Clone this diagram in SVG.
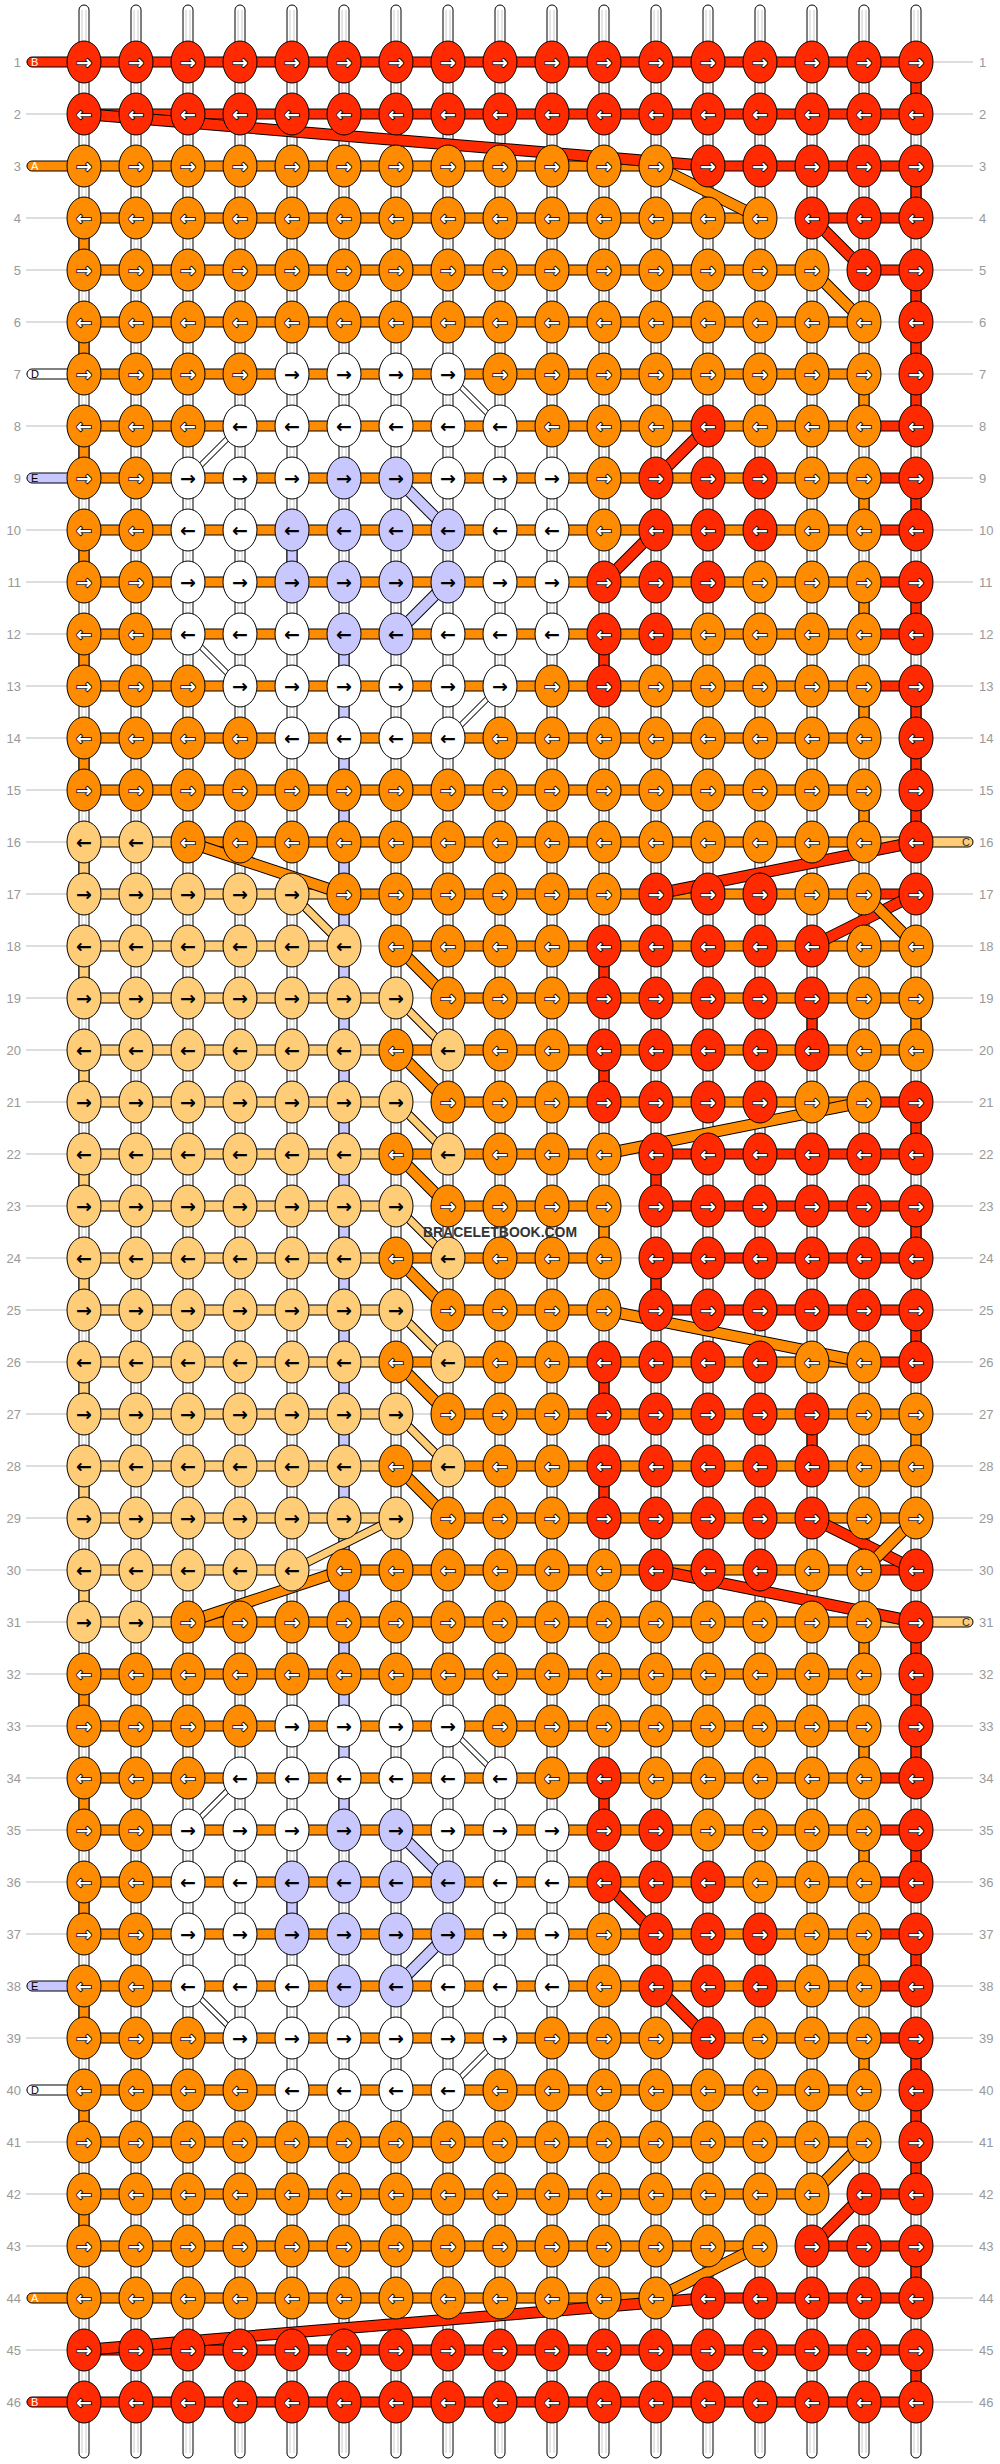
<svg xmlns="http://www.w3.org/2000/svg" width="1000" height="2464" viewBox="0 0 1000 2464">
<style>
text{font-family:"Liberation Sans",Arial,sans-serif}
.r{fill:#ff2a00}.o{fill:#ff8c00}.l{fill:#ffcc77}.w{fill:#fff}.v{fill:#c8c8ff}
.c{stroke:#000;stroke-width:1px}
ellipse{rx:17px;ry:21px;stroke:#000;stroke-width:1px}
.gl{stroke:#bbb;stroke-width:1px;fill:none}
.st{fill:#fff;stroke:#000;stroke-width:1px}
.sl{stroke:#ccc;stroke-width:1px;fill:none}
.aw{font-family:"DejaVu Sans",sans-serif;font-size:19px;font-weight:bold;text-anchor:middle;fill:#fff;stroke:#000;stroke-width:1.6px;paint-order:stroke}
.ak{fill:#000;stroke:none}
.nl,.nr{font-size:13px;fill:#999}
.nl{text-anchor:end}
.tl{font-size:11px}
.dk{fill:none;stroke:#000;stroke-width:12px}
.dr{fill:none;stroke:#ff2a00;stroke-width:10px}
.do{fill:none;stroke:#ff8c00;stroke-width:10px}
.dk2{fill:none;stroke:#000;stroke-width:9px}
.dl{fill:none;stroke:#ffcc77;stroke-width:7px}
.dk3{fill:none;stroke:#000;stroke-width:6px}
.dw{fill:none;stroke:#fff;stroke-width:4px}
.dv{fill:none;stroke:#c8c8ff;stroke-width:10px}
</style>
<rect width="1000" height="2464" fill="#fff"/>
<g id="connectors">
<path class="gl" d="M26 62H973M26 114H973M26 166H973M26 218H973M26 270H973M26 322H973M26 374H973M26 426H973M26 478H973M26 530H973M26 582H973M26 634H973M26 686H973M26 738H973M26 790H973M26 842H973M26 894H973M26 946H973M26 998H973M26 1050H973M26 1102H973M26 1154H973M26 1206H973M26 1258H973M26 1310H973M26 1362H973M26 1414H973M26 1466H973M26 1518H973M26 1570H973M26 1622H973M26 1674H973M26 1726H973M26 1778H973M26 1830H973M26 1882H973M26 1934H973M26 1986H973M26 2038H973M26 2090H973M26 2142H973M26 2194H973M26 2246H973M26 2298H973M26 2350H973M26 2402H973"/>
<g id="strings">
<rect class="st" x="79" y="5" width="10" height="2453" rx="5"/>
<rect class="st" x="131" y="5" width="10" height="2453" rx="5"/>
<rect class="st" x="183" y="5" width="10" height="2453" rx="5"/>
<rect class="st" x="235" y="5" width="10" height="2453" rx="5"/>
<rect class="st" x="287" y="5" width="10" height="2453" rx="5"/>
<rect class="st" x="339" y="5" width="10" height="2453" rx="5"/>
<rect class="st" x="391" y="5" width="10" height="2453" rx="5"/>
<rect class="st" x="443" y="5" width="10" height="2453" rx="5"/>
<rect class="st" x="495" y="5" width="10" height="2453" rx="5"/>
<rect class="st" x="547" y="5" width="10" height="2453" rx="5"/>
<rect class="st" x="599" y="5" width="10" height="2453" rx="5"/>
<rect class="st" x="651" y="5" width="10" height="2453" rx="5"/>
<rect class="st" x="703" y="5" width="10" height="2453" rx="5"/>
<rect class="st" x="755" y="5" width="10" height="2453" rx="5"/>
<rect class="st" x="807" y="5" width="10" height="2453" rx="5"/>
<rect class="st" x="859" y="5" width="10" height="2453" rx="5"/>
<rect class="st" x="911" y="5" width="10" height="2453" rx="5"/>
<path class="sl" d="M82 10V2453M86 10V2453M134 10V2453M138 10V2453M186 10V2453M190 10V2453M238 10V2453M242 10V2453M290 10V2453M294 10V2453M342 10V2453M346 10V2453M394 10V2453M398 10V2453M446 10V2453M450 10V2453M498 10V2453M502 10V2453M550 10V2453M554 10V2453M602 10V2453M606 10V2453M654 10V2453M658 10V2453M706 10V2453M710 10V2453M758 10V2453M762 10V2453M810 10V2453M814 10V2453M862 10V2453M866 10V2453M914 10V2453M918 10V2453"/>
</g>
<g id="vertical-threads">
<path class="r c" d="M911 62h10v52h-10zM911 166h10v52h-10zM911 270h10v156h-10zM911 478h10v52h-10zM911 582h10v52h-10zM911 686h10v156h-10zM911 1102h10v52h-10zM911 1206h10v52h-10zM911 1310h10v52h-10zM911 1622h10v156h-10zM911 1830h10v52h-10zM911 1934h10v52h-10zM911 2038h10v156h-10zM911 2246h10v52h-10zM911 2350h10v52h-10zM599 634h10v52h-10zM599 946h10v52h-10zM599 1050h10v52h-10zM599 1362h10v52h-10zM599 1466h10v52h-10zM599 1778h10v52h-10zM651 1154h10v52h-10zM651 1258h10v52h-10zM807 998h10v52h-10zM807 1414h10v52h-10z"/>
<path class="o c" d="M79 218h10v52h-10zM79 322h10v52h-10zM79 426h10v52h-10zM79 530h10v52h-10zM79 634h10v52h-10zM79 738h10v52h-10zM79 1674h10v52h-10zM79 1778h10v52h-10zM79 1882h10v52h-10zM79 1986h10v52h-10zM79 2090h10v52h-10zM79 2194h10v52h-10zM859 374h10v52h-10zM859 478h10v52h-10zM859 582h10v52h-10zM859 686h10v52h-10zM859 790h10v52h-10zM859 1622h10v52h-10zM859 1726h10v52h-10zM859 1830h10v52h-10zM859 1934h10v52h-10zM859 2038h10v52h-10zM911 998h10v52h-10zM911 1414h10v52h-10zM599 1206h10v52h-10z"/>
<path class="l c" d="M79 842h10v52h-10zM79 946h10v52h-10zM79 1050h10v52h-10zM79 1154h10v52h-10zM79 1258h10v52h-10zM79 1362h10v52h-10zM79 1466h10v52h-10zM79 1570h10v52h-10z"/>
<path class="v c" d="M287 530h10v52h-10zM287 1882h10v52h-10zM339 634h10v1196h-10z"/>
</g>
<g id="row-threads">
<path class="r c" d="M84 57H916v10H84zM84 109H916v10H84zM708 161H916v10H708zM812 213H916v10H812zM864 265H916v10H864zM864 421H916v10H864zM864 473H916v10H864zM864 525H916v10H864zM864 577H916v10H864zM864 629H916v10H864zM864 681H916v10H864zM864 889H916v10H864zM864 1097H916v10H864zM656 1149H916v10H656zM656 1201H916v10H656zM656 1253H916v10H656zM656 1305H916v10H656zM864 1357H916v10H864zM864 1565H916v10H864zM864 1773H916v10H864zM864 1825H916v10H864zM864 1877H916v10H864zM864 1929H916v10H864zM864 1981H916v10H864zM864 2033H916v10H864zM864 2189H916v10H864zM812 2241H916v10H812zM708 2293H916v10H708zM84 2345H916v10H84zM84 2397H916v10H84z"/>
<path class="o c" d="M84 161H656v10H84zM84 213H760v10H84zM84 265H812v10H84zM84 317H864v10H84zM84 369H864v10H84zM84 421H864v10H84zM84 473H864v10H84zM84 525H864v10H84zM84 577H864v10H84zM84 629H864v10H84zM84 681H864v10H84zM84 733H864v10H84zM84 785H864v10H84zM188 837H864v10H188zM344 889H864v10H344zM396 941H916v10H396zM448 993H916v10H448zM396 1045H916v10H396zM448 1097H864v10H448zM396 1149H604v10H396zM448 1201H604v10H448zM396 1253H604v10H396zM448 1305H604v10H448zM396 1357H864v10H396zM448 1409H916v10H448zM396 1461H916v10H396zM448 1513H916v10H448zM344 1565H864v10H344zM188 1617H864v10H188zM84 1669H864v10H84zM84 1721H864v10H84zM84 1773H864v10H84zM84 1825H864v10H84zM84 1877H864v10H84zM84 1929H864v10H84zM84 1981H864v10H84zM84 2033H864v10H84zM84 2085H864v10H84zM84 2137H864v10H84zM84 2189H812v10H84zM84 2241H760v10H84zM84 2293H656v10H84z"/>
<path class="l c" d="M84 837H188v10H84zM864 837H916v10H864zM84 889H344v10H84zM84 941H344v10H84zM84 993H396v10H84zM84 1045H396v10H84zM84 1097H396v10H84zM84 1149H396v10H84zM84 1201H396v10H84zM84 1253H396v10H84zM84 1305H396v10H84zM84 1357H396v10H84zM84 1409H396v10H84zM84 1461H396v10H84zM84 1513H396v10H84zM84 1565H292v10H84zM84 1617H188v10H84zM864 1617H916v10H864z"/>
</g>
<g id="diagonals">
<path class="dk" d="M84 114L708 166M812 218L864 270M708 426L656 478M656 530L604 582M916 842L656 894M916 894L812 946M812 1518L916 1570M656 1570L916 1622M604 1882L656 1934M656 1986L708 2038M864 2194L812 2246M708 2298L84 2350"/>
<path class="dr" d="M84 114L708 166M812 218L864 270M708 426L656 478M656 530L604 582M916 842L656 894M916 894L812 946M812 1518L916 1570M656 1570L916 1622M604 1882L656 1934M656 1986L708 2038M864 2194L812 2246M708 2298L84 2350"/>
<path class="dk" d="M656 166L760 218M812 270L864 322M188 842L344 894M864 894L916 946M396 946L448 998M396 1050L448 1102M864 1102L604 1154M396 1154L448 1206M396 1258L448 1310M604 1310L864 1362M396 1362L448 1414M396 1466L448 1518M916 1518L864 1570M344 1570L188 1622M864 2142L812 2194M760 2246L656 2298"/>
<path class="do" d="M656 166L760 218M812 270L864 322M188 842L344 894M864 894L916 946M396 946L448 998M396 1050L448 1102M864 1102L604 1154M396 1154L448 1206M396 1258L448 1310M604 1310L864 1362M396 1362L448 1414M396 1466L448 1518M916 1518L864 1570M344 1570L188 1622M864 2142L812 2194M760 2246L656 2298"/>
<path class="dk2" d="M292 894L344 946M396 998L448 1050M396 1102L448 1154M396 1206L448 1258M396 1310L448 1362M396 1414L448 1466M396 1518L292 1570"/>
<path class="dl" d="M292 894L344 946M396 998L448 1050M396 1102L448 1154M396 1206L448 1258M396 1310L448 1362M396 1414L448 1466M396 1518L292 1570"/>
<path class="dk3" d="M448 374L500 426M240 426L188 478M188 634L240 686M500 686L448 738M448 1726L500 1778M240 1778L188 1830M188 1986L240 2038M500 2038L448 2090"/>
<path class="dw" d="M448 374L500 426M240 426L188 478M188 634L240 686M500 686L448 738M448 1726L500 1778M240 1778L188 1830M188 1986L240 2038M500 2038L448 2090"/>
<path class="dk" d="M396 478L448 530M448 582L396 634M396 1830L448 1882M448 1934L396 1986"/>
<path class="dv" d="M396 478L448 530M448 582L396 634M396 1830L448 1882M448 1934L396 1986"/>
</g>
</g>
<g id="row-1" transform="translate(0,62)"><text class="nl" x="21" y="4.5">1</text><text class="nr" x="979" y="4.5">1</text><rect class="r c" x="27" y="-5" width="62" height="10" rx="5"/><text class="tl" x="31" y="4" fill="#fff">B</text><ellipse class="r" cx="84"/><ellipse class="r" cx="136"/><ellipse class="r" cx="188"/><ellipse class="r" cx="240"/><ellipse class="r" cx="292"/><ellipse class="r" cx="344"/><ellipse class="r" cx="396"/><ellipse class="r" cx="448"/><ellipse class="r" cx="500"/><ellipse class="r" cx="552"/><ellipse class="r" cx="604"/><ellipse class="r" cx="656"/><ellipse class="r" cx="708"/><ellipse class="r" cx="760"/><ellipse class="r" cx="812"/><ellipse class="r" cx="864"/><ellipse class="r" cx="916"/><text class="aw" x="84 136 188 240 292 344 396 448 500 552 604 656 708 760 812 864 916" y="7">→→→→→→→→→→→→→→→→→</text></g>
<g id="row-2" transform="translate(0,114)"><text class="nl" x="21" y="4.5">2</text><text class="nr" x="979" y="4.5">2</text><ellipse class="r" cx="84"/><ellipse class="r" cx="136"/><ellipse class="r" cx="188"/><ellipse class="r" cx="240"/><ellipse class="r" cx="292"/><ellipse class="r" cx="344"/><ellipse class="r" cx="396"/><ellipse class="r" cx="448"/><ellipse class="r" cx="500"/><ellipse class="r" cx="552"/><ellipse class="r" cx="604"/><ellipse class="r" cx="656"/><ellipse class="r" cx="708"/><ellipse class="r" cx="760"/><ellipse class="r" cx="812"/><ellipse class="r" cx="864"/><ellipse class="r" cx="916"/><text class="aw" x="84 136 188 240 292 344 396 448 500 552 604 656 708 760 812 864 916" y="7">←←←←←←←←←←←←←←←←←</text></g>
<g id="row-3" transform="translate(0,166)"><text class="nl" x="21" y="4.5">3</text><text class="nr" x="979" y="4.5">3</text><rect class="o c" x="27" y="-5" width="62" height="10" rx="5"/><text class="tl" x="31" y="4" fill="#fff">A</text><ellipse class="o" cx="84"/><ellipse class="o" cx="136"/><ellipse class="o" cx="188"/><ellipse class="o" cx="240"/><ellipse class="o" cx="292"/><ellipse class="o" cx="344"/><ellipse class="o" cx="396"/><ellipse class="o" cx="448"/><ellipse class="o" cx="500"/><ellipse class="o" cx="552"/><ellipse class="o" cx="604"/><ellipse class="o" cx="656"/><ellipse class="r" cx="708"/><ellipse class="r" cx="760"/><ellipse class="r" cx="812"/><ellipse class="r" cx="864"/><ellipse class="r" cx="916"/><text class="aw" x="84 136 188 240 292 344 396 448 500 552 604 656 708 760 812 864 916" y="7">→→→→→→→→→→→→→→→→→</text></g>
<g id="row-4" transform="translate(0,218)"><text class="nl" x="21" y="4.5">4</text><text class="nr" x="979" y="4.5">4</text><ellipse class="o" cx="84"/><ellipse class="o" cx="136"/><ellipse class="o" cx="188"/><ellipse class="o" cx="240"/><ellipse class="o" cx="292"/><ellipse class="o" cx="344"/><ellipse class="o" cx="396"/><ellipse class="o" cx="448"/><ellipse class="o" cx="500"/><ellipse class="o" cx="552"/><ellipse class="o" cx="604"/><ellipse class="o" cx="656"/><ellipse class="o" cx="708"/><ellipse class="o" cx="760"/><ellipse class="r" cx="812"/><ellipse class="r" cx="864"/><ellipse class="r" cx="916"/><text class="aw" x="84 136 188 240 292 344 396 448 500 552 604 656 708 760 812 864 916" y="7">←←←←←←←←←←←←←←←←←</text></g>
<g id="row-5" transform="translate(0,270)"><text class="nl" x="21" y="4.5">5</text><text class="nr" x="979" y="4.5">5</text><ellipse class="o" cx="84"/><ellipse class="o" cx="136"/><ellipse class="o" cx="188"/><ellipse class="o" cx="240"/><ellipse class="o" cx="292"/><ellipse class="o" cx="344"/><ellipse class="o" cx="396"/><ellipse class="o" cx="448"/><ellipse class="o" cx="500"/><ellipse class="o" cx="552"/><ellipse class="o" cx="604"/><ellipse class="o" cx="656"/><ellipse class="o" cx="708"/><ellipse class="o" cx="760"/><ellipse class="o" cx="812"/><ellipse class="r" cx="864"/><ellipse class="r" cx="916"/><text class="aw" x="84 136 188 240 292 344 396 448 500 552 604 656 708 760 812 864 916" y="7">→→→→→→→→→→→→→→→→→</text></g>
<g id="row-6" transform="translate(0,322)"><text class="nl" x="21" y="4.5">6</text><text class="nr" x="979" y="4.5">6</text><ellipse class="o" cx="84"/><ellipse class="o" cx="136"/><ellipse class="o" cx="188"/><ellipse class="o" cx="240"/><ellipse class="o" cx="292"/><ellipse class="o" cx="344"/><ellipse class="o" cx="396"/><ellipse class="o" cx="448"/><ellipse class="o" cx="500"/><ellipse class="o" cx="552"/><ellipse class="o" cx="604"/><ellipse class="o" cx="656"/><ellipse class="o" cx="708"/><ellipse class="o" cx="760"/><ellipse class="o" cx="812"/><ellipse class="o" cx="864"/><ellipse class="r" cx="916"/><text class="aw" x="84 136 188 240 292 344 396 448 500 552 604 656 708 760 812 864 916" y="7">←←←←←←←←←←←←←←←←←</text></g>
<g id="row-7" transform="translate(0,374)"><text class="nl" x="21" y="4.5">7</text><text class="nr" x="979" y="4.5">7</text><rect class="w c" x="27" y="-5" width="62" height="10" rx="5"/><text class="tl" x="31" y="4" fill="#000">D</text><ellipse class="o" cx="84"/><ellipse class="o" cx="136"/><ellipse class="o" cx="188"/><ellipse class="o" cx="240"/><ellipse class="w" cx="292"/><ellipse class="w" cx="344"/><ellipse class="w" cx="396"/><ellipse class="w" cx="448"/><ellipse class="o" cx="500"/><ellipse class="o" cx="552"/><ellipse class="o" cx="604"/><ellipse class="o" cx="656"/><ellipse class="o" cx="708"/><ellipse class="o" cx="760"/><ellipse class="o" cx="812"/><ellipse class="o" cx="864"/><ellipse class="r" cx="916"/><text class="aw" x="84 136 188 240 292 344 396 448 500 552 604 656 708 760 812 864 916" y="7">→→→→<tspan class="ak">→→→→</tspan>→→→→→→→→→</text></g>
<g id="row-8" transform="translate(0,426)"><text class="nl" x="21" y="4.5">8</text><text class="nr" x="979" y="4.5">8</text><ellipse class="o" cx="84"/><ellipse class="o" cx="136"/><ellipse class="o" cx="188"/><ellipse class="w" cx="240"/><ellipse class="w" cx="292"/><ellipse class="w" cx="344"/><ellipse class="w" cx="396"/><ellipse class="w" cx="448"/><ellipse class="w" cx="500"/><ellipse class="o" cx="552"/><ellipse class="o" cx="604"/><ellipse class="o" cx="656"/><ellipse class="r" cx="708"/><ellipse class="o" cx="760"/><ellipse class="o" cx="812"/><ellipse class="o" cx="864"/><ellipse class="r" cx="916"/><text class="aw" x="84 136 188 240 292 344 396 448 500 552 604 656 708 760 812 864 916" y="7">←←←<tspan class="ak">←←←←←←</tspan>←←←←←←←←</text></g>
<g id="row-9" transform="translate(0,478)"><text class="nl" x="21" y="4.5">9</text><text class="nr" x="979" y="4.5">9</text><rect class="v c" x="27" y="-5" width="62" height="10" rx="5"/><text class="tl" x="31" y="4" fill="#000">E</text><ellipse class="o" cx="84"/><ellipse class="o" cx="136"/><ellipse class="w" cx="188"/><ellipse class="w" cx="240"/><ellipse class="w" cx="292"/><ellipse class="v" cx="344"/><ellipse class="v" cx="396"/><ellipse class="w" cx="448"/><ellipse class="w" cx="500"/><ellipse class="w" cx="552"/><ellipse class="o" cx="604"/><ellipse class="r" cx="656"/><ellipse class="r" cx="708"/><ellipse class="r" cx="760"/><ellipse class="o" cx="812"/><ellipse class="o" cx="864"/><ellipse class="r" cx="916"/><text class="aw" x="84 136 188 240 292 344 396 448 500 552 604 656 708 760 812 864 916" y="7">→→<tspan class="ak">→→→→→→→→</tspan>→→→→→→→</text></g>
<g id="row-10" transform="translate(0,530)"><text class="nl" x="21" y="4.5">10</text><text class="nr" x="979" y="4.5">10</text><ellipse class="o" cx="84"/><ellipse class="o" cx="136"/><ellipse class="w" cx="188"/><ellipse class="w" cx="240"/><ellipse class="v" cx="292"/><ellipse class="v" cx="344"/><ellipse class="v" cx="396"/><ellipse class="v" cx="448"/><ellipse class="w" cx="500"/><ellipse class="w" cx="552"/><ellipse class="o" cx="604"/><ellipse class="r" cx="656"/><ellipse class="r" cx="708"/><ellipse class="r" cx="760"/><ellipse class="o" cx="812"/><ellipse class="o" cx="864"/><ellipse class="r" cx="916"/><text class="aw" x="84 136 188 240 292 344 396 448 500 552 604 656 708 760 812 864 916" y="7">←←<tspan class="ak">←←←←←←←←</tspan>←←←←←←←</text></g>
<g id="row-11" transform="translate(0,582)"><text class="nl" x="21" y="4.5">11</text><text class="nr" x="979" y="4.5">11</text><ellipse class="o" cx="84"/><ellipse class="o" cx="136"/><ellipse class="w" cx="188"/><ellipse class="w" cx="240"/><ellipse class="v" cx="292"/><ellipse class="v" cx="344"/><ellipse class="v" cx="396"/><ellipse class="v" cx="448"/><ellipse class="w" cx="500"/><ellipse class="w" cx="552"/><ellipse class="r" cx="604"/><ellipse class="r" cx="656"/><ellipse class="r" cx="708"/><ellipse class="o" cx="760"/><ellipse class="o" cx="812"/><ellipse class="o" cx="864"/><ellipse class="r" cx="916"/><text class="aw" x="84 136 188 240 292 344 396 448 500 552 604 656 708 760 812 864 916" y="7">→→<tspan class="ak">→→→→→→→→</tspan>→→→→→→→</text></g>
<g id="row-12" transform="translate(0,634)"><text class="nl" x="21" y="4.5">12</text><text class="nr" x="979" y="4.5">12</text><ellipse class="o" cx="84"/><ellipse class="o" cx="136"/><ellipse class="w" cx="188"/><ellipse class="w" cx="240"/><ellipse class="w" cx="292"/><ellipse class="v" cx="344"/><ellipse class="v" cx="396"/><ellipse class="w" cx="448"/><ellipse class="w" cx="500"/><ellipse class="w" cx="552"/><ellipse class="r" cx="604"/><ellipse class="r" cx="656"/><ellipse class="o" cx="708"/><ellipse class="o" cx="760"/><ellipse class="o" cx="812"/><ellipse class="o" cx="864"/><ellipse class="r" cx="916"/><text class="aw" x="84 136 188 240 292 344 396 448 500 552 604 656 708 760 812 864 916" y="7">←←<tspan class="ak">←←←←←←←←</tspan>←←←←←←←</text></g>
<g id="row-13" transform="translate(0,686)"><text class="nl" x="21" y="4.5">13</text><text class="nr" x="979" y="4.5">13</text><ellipse class="o" cx="84"/><ellipse class="o" cx="136"/><ellipse class="o" cx="188"/><ellipse class="w" cx="240"/><ellipse class="w" cx="292"/><ellipse class="w" cx="344"/><ellipse class="w" cx="396"/><ellipse class="w" cx="448"/><ellipse class="w" cx="500"/><ellipse class="o" cx="552"/><ellipse class="r" cx="604"/><ellipse class="o" cx="656"/><ellipse class="o" cx="708"/><ellipse class="o" cx="760"/><ellipse class="o" cx="812"/><ellipse class="o" cx="864"/><ellipse class="r" cx="916"/><text class="aw" x="84 136 188 240 292 344 396 448 500 552 604 656 708 760 812 864 916" y="7">→→→<tspan class="ak">→→→→→→</tspan>→→→→→→→→</text></g>
<g id="row-14" transform="translate(0,738)"><text class="nl" x="21" y="4.5">14</text><text class="nr" x="979" y="4.5">14</text><ellipse class="o" cx="84"/><ellipse class="o" cx="136"/><ellipse class="o" cx="188"/><ellipse class="o" cx="240"/><ellipse class="w" cx="292"/><ellipse class="w" cx="344"/><ellipse class="w" cx="396"/><ellipse class="w" cx="448"/><ellipse class="o" cx="500"/><ellipse class="o" cx="552"/><ellipse class="o" cx="604"/><ellipse class="o" cx="656"/><ellipse class="o" cx="708"/><ellipse class="o" cx="760"/><ellipse class="o" cx="812"/><ellipse class="o" cx="864"/><ellipse class="r" cx="916"/><text class="aw" x="84 136 188 240 292 344 396 448 500 552 604 656 708 760 812 864 916" y="7">←←←←<tspan class="ak">←←←←</tspan>←←←←←←←←←</text></g>
<g id="row-15" transform="translate(0,790)"><text class="nl" x="21" y="4.5">15</text><text class="nr" x="979" y="4.5">15</text><ellipse class="o" cx="84"/><ellipse class="o" cx="136"/><ellipse class="o" cx="188"/><ellipse class="o" cx="240"/><ellipse class="o" cx="292"/><ellipse class="o" cx="344"/><ellipse class="o" cx="396"/><ellipse class="o" cx="448"/><ellipse class="o" cx="500"/><ellipse class="o" cx="552"/><ellipse class="o" cx="604"/><ellipse class="o" cx="656"/><ellipse class="o" cx="708"/><ellipse class="o" cx="760"/><ellipse class="o" cx="812"/><ellipse class="o" cx="864"/><ellipse class="r" cx="916"/><text class="aw" x="84 136 188 240 292 344 396 448 500 552 604 656 708 760 812 864 916" y="7">→→→→→→→→→→→→→→→→→</text></g>
<g id="row-16" transform="translate(0,842)"><text class="nl" x="21" y="4.5">16</text><text class="nr" x="979" y="4.5">16</text><rect class="l c" x="916" y="-5" width="57" height="10" rx="5"/><text class="tl" x="966" y="4" text-anchor="middle" fill="#333">C</text><ellipse class="l" cx="84"/><ellipse class="l" cx="136"/><ellipse class="o" cx="188"/><ellipse class="o" cx="240"/><ellipse class="o" cx="292"/><ellipse class="o" cx="344"/><ellipse class="o" cx="396"/><ellipse class="o" cx="448"/><ellipse class="o" cx="500"/><ellipse class="o" cx="552"/><ellipse class="o" cx="604"/><ellipse class="o" cx="656"/><ellipse class="o" cx="708"/><ellipse class="o" cx="760"/><ellipse class="o" cx="812"/><ellipse class="o" cx="864"/><ellipse class="r" cx="916"/><text class="aw" x="84 136 188 240 292 344 396 448 500 552 604 656 708 760 812 864 916" y="7"><tspan class="ak">←←</tspan>←←←←←←←←←←←←←←←</text></g>
<g id="row-17" transform="translate(0,894)"><text class="nl" x="21" y="4.5">17</text><text class="nr" x="979" y="4.5">17</text><ellipse class="l" cx="84"/><ellipse class="l" cx="136"/><ellipse class="l" cx="188"/><ellipse class="l" cx="240"/><ellipse class="l" cx="292"/><ellipse class="o" cx="344"/><ellipse class="o" cx="396"/><ellipse class="o" cx="448"/><ellipse class="o" cx="500"/><ellipse class="o" cx="552"/><ellipse class="o" cx="604"/><ellipse class="r" cx="656"/><ellipse class="r" cx="708"/><ellipse class="r" cx="760"/><ellipse class="o" cx="812"/><ellipse class="o" cx="864"/><ellipse class="r" cx="916"/><text class="aw" x="84 136 188 240 292 344 396 448 500 552 604 656 708 760 812 864 916" y="7"><tspan class="ak">→→→→→</tspan>→→→→→→→→→→→→</text></g>
<g id="row-18" transform="translate(0,946)"><text class="nl" x="21" y="4.5">18</text><text class="nr" x="979" y="4.5">18</text><ellipse class="l" cx="84"/><ellipse class="l" cx="136"/><ellipse class="l" cx="188"/><ellipse class="l" cx="240"/><ellipse class="l" cx="292"/><ellipse class="l" cx="344"/><ellipse class="o" cx="396"/><ellipse class="o" cx="448"/><ellipse class="o" cx="500"/><ellipse class="o" cx="552"/><ellipse class="r" cx="604"/><ellipse class="r" cx="656"/><ellipse class="r" cx="708"/><ellipse class="r" cx="760"/><ellipse class="r" cx="812"/><ellipse class="o" cx="864"/><ellipse class="o" cx="916"/><text class="aw" x="84 136 188 240 292 344 396 448 500 552 604 656 708 760 812 864 916" y="7"><tspan class="ak">←←←←←←</tspan>←←←←←←←←←←←</text></g>
<g id="row-19" transform="translate(0,998)"><text class="nl" x="21" y="4.5">19</text><text class="nr" x="979" y="4.5">19</text><ellipse class="l" cx="84"/><ellipse class="l" cx="136"/><ellipse class="l" cx="188"/><ellipse class="l" cx="240"/><ellipse class="l" cx="292"/><ellipse class="l" cx="344"/><ellipse class="l" cx="396"/><ellipse class="o" cx="448"/><ellipse class="o" cx="500"/><ellipse class="o" cx="552"/><ellipse class="r" cx="604"/><ellipse class="r" cx="656"/><ellipse class="r" cx="708"/><ellipse class="r" cx="760"/><ellipse class="r" cx="812"/><ellipse class="o" cx="864"/><ellipse class="o" cx="916"/><text class="aw" x="84 136 188 240 292 344 396 448 500 552 604 656 708 760 812 864 916" y="7"><tspan class="ak">→→→→→→→</tspan>→→→→→→→→→→</text></g>
<g id="row-20" transform="translate(0,1050)"><text class="nl" x="21" y="4.5">20</text><text class="nr" x="979" y="4.5">20</text><ellipse class="l" cx="84"/><ellipse class="l" cx="136"/><ellipse class="l" cx="188"/><ellipse class="l" cx="240"/><ellipse class="l" cx="292"/><ellipse class="l" cx="344"/><ellipse class="o" cx="396"/><ellipse class="l" cx="448"/><ellipse class="o" cx="500"/><ellipse class="o" cx="552"/><ellipse class="r" cx="604"/><ellipse class="r" cx="656"/><ellipse class="r" cx="708"/><ellipse class="r" cx="760"/><ellipse class="r" cx="812"/><ellipse class="o" cx="864"/><ellipse class="o" cx="916"/><text class="aw" x="84 136 188 240 292 344 396 448 500 552 604 656 708 760 812 864 916" y="7"><tspan class="ak">←←←←←←</tspan>←<tspan class="ak">←</tspan>←←←←←←←←←</text></g>
<g id="row-21" transform="translate(0,1102)"><text class="nl" x="21" y="4.5">21</text><text class="nr" x="979" y="4.5">21</text><ellipse class="l" cx="84"/><ellipse class="l" cx="136"/><ellipse class="l" cx="188"/><ellipse class="l" cx="240"/><ellipse class="l" cx="292"/><ellipse class="l" cx="344"/><ellipse class="l" cx="396"/><ellipse class="o" cx="448"/><ellipse class="o" cx="500"/><ellipse class="o" cx="552"/><ellipse class="r" cx="604"/><ellipse class="r" cx="656"/><ellipse class="r" cx="708"/><ellipse class="r" cx="760"/><ellipse class="o" cx="812"/><ellipse class="o" cx="864"/><ellipse class="r" cx="916"/><text class="aw" x="84 136 188 240 292 344 396 448 500 552 604 656 708 760 812 864 916" y="7"><tspan class="ak">→→→→→→→</tspan>→→→→→→→→→→</text></g>
<g id="row-22" transform="translate(0,1154)"><text class="nl" x="21" y="4.5">22</text><text class="nr" x="979" y="4.5">22</text><ellipse class="l" cx="84"/><ellipse class="l" cx="136"/><ellipse class="l" cx="188"/><ellipse class="l" cx="240"/><ellipse class="l" cx="292"/><ellipse class="l" cx="344"/><ellipse class="o" cx="396"/><ellipse class="l" cx="448"/><ellipse class="o" cx="500"/><ellipse class="o" cx="552"/><ellipse class="o" cx="604"/><ellipse class="r" cx="656"/><ellipse class="r" cx="708"/><ellipse class="r" cx="760"/><ellipse class="r" cx="812"/><ellipse class="r" cx="864"/><ellipse class="r" cx="916"/><text class="aw" x="84 136 188 240 292 344 396 448 500 552 604 656 708 760 812 864 916" y="7"><tspan class="ak">←←←←←←</tspan>←<tspan class="ak">←</tspan>←←←←←←←←←</text></g>
<g id="row-23" transform="translate(0,1206)"><text class="nl" x="21" y="4.5">23</text><text class="nr" x="979" y="4.5">23</text><ellipse class="l" cx="84"/><ellipse class="l" cx="136"/><ellipse class="l" cx="188"/><ellipse class="l" cx="240"/><ellipse class="l" cx="292"/><ellipse class="l" cx="344"/><ellipse class="l" cx="396"/><ellipse class="o" cx="448"/><ellipse class="o" cx="500"/><ellipse class="o" cx="552"/><ellipse class="o" cx="604"/><ellipse class="r" cx="656"/><ellipse class="r" cx="708"/><ellipse class="r" cx="760"/><ellipse class="r" cx="812"/><ellipse class="r" cx="864"/><ellipse class="r" cx="916"/><text class="aw" x="84 136 188 240 292 344 396 448 500 552 604 656 708 760 812 864 916" y="7"><tspan class="ak">→→→→→→→</tspan>→→→→→→→→→→</text></g>
<g id="row-24" transform="translate(0,1258)"><text class="nl" x="21" y="4.5">24</text><text class="nr" x="979" y="4.5">24</text><ellipse class="l" cx="84"/><ellipse class="l" cx="136"/><ellipse class="l" cx="188"/><ellipse class="l" cx="240"/><ellipse class="l" cx="292"/><ellipse class="l" cx="344"/><ellipse class="o" cx="396"/><ellipse class="l" cx="448"/><ellipse class="o" cx="500"/><ellipse class="o" cx="552"/><ellipse class="o" cx="604"/><ellipse class="r" cx="656"/><ellipse class="r" cx="708"/><ellipse class="r" cx="760"/><ellipse class="r" cx="812"/><ellipse class="r" cx="864"/><ellipse class="r" cx="916"/><text class="aw" x="84 136 188 240 292 344 396 448 500 552 604 656 708 760 812 864 916" y="7"><tspan class="ak">←←←←←←</tspan>←<tspan class="ak">←</tspan>←←←←←←←←←</text></g>
<g id="row-25" transform="translate(0,1310)"><text class="nl" x="21" y="4.5">25</text><text class="nr" x="979" y="4.5">25</text><ellipse class="l" cx="84"/><ellipse class="l" cx="136"/><ellipse class="l" cx="188"/><ellipse class="l" cx="240"/><ellipse class="l" cx="292"/><ellipse class="l" cx="344"/><ellipse class="l" cx="396"/><ellipse class="o" cx="448"/><ellipse class="o" cx="500"/><ellipse class="o" cx="552"/><ellipse class="o" cx="604"/><ellipse class="r" cx="656"/><ellipse class="r" cx="708"/><ellipse class="r" cx="760"/><ellipse class="r" cx="812"/><ellipse class="r" cx="864"/><ellipse class="r" cx="916"/><text class="aw" x="84 136 188 240 292 344 396 448 500 552 604 656 708 760 812 864 916" y="7"><tspan class="ak">→→→→→→→</tspan>→→→→→→→→→→</text></g>
<g id="row-26" transform="translate(0,1362)"><text class="nl" x="21" y="4.5">26</text><text class="nr" x="979" y="4.5">26</text><ellipse class="l" cx="84"/><ellipse class="l" cx="136"/><ellipse class="l" cx="188"/><ellipse class="l" cx="240"/><ellipse class="l" cx="292"/><ellipse class="l" cx="344"/><ellipse class="o" cx="396"/><ellipse class="l" cx="448"/><ellipse class="o" cx="500"/><ellipse class="o" cx="552"/><ellipse class="r" cx="604"/><ellipse class="r" cx="656"/><ellipse class="r" cx="708"/><ellipse class="r" cx="760"/><ellipse class="o" cx="812"/><ellipse class="o" cx="864"/><ellipse class="r" cx="916"/><text class="aw" x="84 136 188 240 292 344 396 448 500 552 604 656 708 760 812 864 916" y="7"><tspan class="ak">←←←←←←</tspan>←<tspan class="ak">←</tspan>←←←←←←←←←</text></g>
<g id="row-27" transform="translate(0,1414)"><text class="nl" x="21" y="4.5">27</text><text class="nr" x="979" y="4.5">27</text><ellipse class="l" cx="84"/><ellipse class="l" cx="136"/><ellipse class="l" cx="188"/><ellipse class="l" cx="240"/><ellipse class="l" cx="292"/><ellipse class="l" cx="344"/><ellipse class="l" cx="396"/><ellipse class="o" cx="448"/><ellipse class="o" cx="500"/><ellipse class="o" cx="552"/><ellipse class="r" cx="604"/><ellipse class="r" cx="656"/><ellipse class="r" cx="708"/><ellipse class="r" cx="760"/><ellipse class="r" cx="812"/><ellipse class="o" cx="864"/><ellipse class="o" cx="916"/><text class="aw" x="84 136 188 240 292 344 396 448 500 552 604 656 708 760 812 864 916" y="7"><tspan class="ak">→→→→→→→</tspan>→→→→→→→→→→</text></g>
<g id="row-28" transform="translate(0,1466)"><text class="nl" x="21" y="4.5">28</text><text class="nr" x="979" y="4.5">28</text><ellipse class="l" cx="84"/><ellipse class="l" cx="136"/><ellipse class="l" cx="188"/><ellipse class="l" cx="240"/><ellipse class="l" cx="292"/><ellipse class="l" cx="344"/><ellipse class="o" cx="396"/><ellipse class="l" cx="448"/><ellipse class="o" cx="500"/><ellipse class="o" cx="552"/><ellipse class="r" cx="604"/><ellipse class="r" cx="656"/><ellipse class="r" cx="708"/><ellipse class="r" cx="760"/><ellipse class="r" cx="812"/><ellipse class="o" cx="864"/><ellipse class="o" cx="916"/><text class="aw" x="84 136 188 240 292 344 396 448 500 552 604 656 708 760 812 864 916" y="7"><tspan class="ak">←←←←←←</tspan>←<tspan class="ak">←</tspan>←←←←←←←←←</text></g>
<g id="row-29" transform="translate(0,1518)"><text class="nl" x="21" y="4.5">29</text><text class="nr" x="979" y="4.5">29</text><ellipse class="l" cx="84"/><ellipse class="l" cx="136"/><ellipse class="l" cx="188"/><ellipse class="l" cx="240"/><ellipse class="l" cx="292"/><ellipse class="l" cx="344"/><ellipse class="l" cx="396"/><ellipse class="o" cx="448"/><ellipse class="o" cx="500"/><ellipse class="o" cx="552"/><ellipse class="r" cx="604"/><ellipse class="r" cx="656"/><ellipse class="r" cx="708"/><ellipse class="r" cx="760"/><ellipse class="r" cx="812"/><ellipse class="o" cx="864"/><ellipse class="o" cx="916"/><text class="aw" x="84 136 188 240 292 344 396 448 500 552 604 656 708 760 812 864 916" y="7"><tspan class="ak">→→→→→→→</tspan>→→→→→→→→→→</text></g>
<g id="row-30" transform="translate(0,1570)"><text class="nl" x="21" y="4.5">30</text><text class="nr" x="979" y="4.5">30</text><ellipse class="l" cx="84"/><ellipse class="l" cx="136"/><ellipse class="l" cx="188"/><ellipse class="l" cx="240"/><ellipse class="l" cx="292"/><ellipse class="o" cx="344"/><ellipse class="o" cx="396"/><ellipse class="o" cx="448"/><ellipse class="o" cx="500"/><ellipse class="o" cx="552"/><ellipse class="o" cx="604"/><ellipse class="r" cx="656"/><ellipse class="r" cx="708"/><ellipse class="r" cx="760"/><ellipse class="o" cx="812"/><ellipse class="o" cx="864"/><ellipse class="r" cx="916"/><text class="aw" x="84 136 188 240 292 344 396 448 500 552 604 656 708 760 812 864 916" y="7"><tspan class="ak">←←←←←</tspan>←←←←←←←←←←←←</text></g>
<g id="row-31" transform="translate(0,1622)"><text class="nl" x="21" y="4.5">31</text><text class="nr" x="979" y="4.5">31</text><rect class="l c" x="916" y="-5" width="57" height="10" rx="5"/><text class="tl" x="966" y="4" text-anchor="middle" fill="#333">C</text><ellipse class="l" cx="84"/><ellipse class="l" cx="136"/><ellipse class="o" cx="188"/><ellipse class="o" cx="240"/><ellipse class="o" cx="292"/><ellipse class="o" cx="344"/><ellipse class="o" cx="396"/><ellipse class="o" cx="448"/><ellipse class="o" cx="500"/><ellipse class="o" cx="552"/><ellipse class="o" cx="604"/><ellipse class="o" cx="656"/><ellipse class="o" cx="708"/><ellipse class="o" cx="760"/><ellipse class="o" cx="812"/><ellipse class="o" cx="864"/><ellipse class="r" cx="916"/><text class="aw" x="84 136 188 240 292 344 396 448 500 552 604 656 708 760 812 864 916" y="7"><tspan class="ak">→→</tspan>→→→→→→→→→→→→→→→</text></g>
<g id="row-32" transform="translate(0,1674)"><text class="nl" x="21" y="4.5">32</text><text class="nr" x="979" y="4.5">32</text><ellipse class="o" cx="84"/><ellipse class="o" cx="136"/><ellipse class="o" cx="188"/><ellipse class="o" cx="240"/><ellipse class="o" cx="292"/><ellipse class="o" cx="344"/><ellipse class="o" cx="396"/><ellipse class="o" cx="448"/><ellipse class="o" cx="500"/><ellipse class="o" cx="552"/><ellipse class="o" cx="604"/><ellipse class="o" cx="656"/><ellipse class="o" cx="708"/><ellipse class="o" cx="760"/><ellipse class="o" cx="812"/><ellipse class="o" cx="864"/><ellipse class="r" cx="916"/><text class="aw" x="84 136 188 240 292 344 396 448 500 552 604 656 708 760 812 864 916" y="7">←←←←←←←←←←←←←←←←←</text></g>
<g id="row-33" transform="translate(0,1726)"><text class="nl" x="21" y="4.5">33</text><text class="nr" x="979" y="4.5">33</text><ellipse class="o" cx="84"/><ellipse class="o" cx="136"/><ellipse class="o" cx="188"/><ellipse class="o" cx="240"/><ellipse class="w" cx="292"/><ellipse class="w" cx="344"/><ellipse class="w" cx="396"/><ellipse class="w" cx="448"/><ellipse class="o" cx="500"/><ellipse class="o" cx="552"/><ellipse class="o" cx="604"/><ellipse class="o" cx="656"/><ellipse class="o" cx="708"/><ellipse class="o" cx="760"/><ellipse class="o" cx="812"/><ellipse class="o" cx="864"/><ellipse class="r" cx="916"/><text class="aw" x="84 136 188 240 292 344 396 448 500 552 604 656 708 760 812 864 916" y="7">→→→→<tspan class="ak">→→→→</tspan>→→→→→→→→→</text></g>
<g id="row-34" transform="translate(0,1778)"><text class="nl" x="21" y="4.5">34</text><text class="nr" x="979" y="4.5">34</text><ellipse class="o" cx="84"/><ellipse class="o" cx="136"/><ellipse class="o" cx="188"/><ellipse class="w" cx="240"/><ellipse class="w" cx="292"/><ellipse class="w" cx="344"/><ellipse class="w" cx="396"/><ellipse class="w" cx="448"/><ellipse class="w" cx="500"/><ellipse class="o" cx="552"/><ellipse class="r" cx="604"/><ellipse class="o" cx="656"/><ellipse class="o" cx="708"/><ellipse class="o" cx="760"/><ellipse class="o" cx="812"/><ellipse class="o" cx="864"/><ellipse class="r" cx="916"/><text class="aw" x="84 136 188 240 292 344 396 448 500 552 604 656 708 760 812 864 916" y="7">←←←<tspan class="ak">←←←←←←</tspan>←←←←←←←←</text></g>
<g id="row-35" transform="translate(0,1830)"><text class="nl" x="21" y="4.5">35</text><text class="nr" x="979" y="4.5">35</text><ellipse class="o" cx="84"/><ellipse class="o" cx="136"/><ellipse class="w" cx="188"/><ellipse class="w" cx="240"/><ellipse class="w" cx="292"/><ellipse class="v" cx="344"/><ellipse class="v" cx="396"/><ellipse class="w" cx="448"/><ellipse class="w" cx="500"/><ellipse class="w" cx="552"/><ellipse class="r" cx="604"/><ellipse class="r" cx="656"/><ellipse class="o" cx="708"/><ellipse class="o" cx="760"/><ellipse class="o" cx="812"/><ellipse class="o" cx="864"/><ellipse class="r" cx="916"/><text class="aw" x="84 136 188 240 292 344 396 448 500 552 604 656 708 760 812 864 916" y="7">→→<tspan class="ak">→→→→→→→→</tspan>→→→→→→→</text></g>
<g id="row-36" transform="translate(0,1882)"><text class="nl" x="21" y="4.5">36</text><text class="nr" x="979" y="4.5">36</text><ellipse class="o" cx="84"/><ellipse class="o" cx="136"/><ellipse class="w" cx="188"/><ellipse class="w" cx="240"/><ellipse class="v" cx="292"/><ellipse class="v" cx="344"/><ellipse class="v" cx="396"/><ellipse class="v" cx="448"/><ellipse class="w" cx="500"/><ellipse class="w" cx="552"/><ellipse class="r" cx="604"/><ellipse class="r" cx="656"/><ellipse class="r" cx="708"/><ellipse class="o" cx="760"/><ellipse class="o" cx="812"/><ellipse class="o" cx="864"/><ellipse class="r" cx="916"/><text class="aw" x="84 136 188 240 292 344 396 448 500 552 604 656 708 760 812 864 916" y="7">←←<tspan class="ak">←←←←←←←←</tspan>←←←←←←←</text></g>
<g id="row-37" transform="translate(0,1934)"><text class="nl" x="21" y="4.5">37</text><text class="nr" x="979" y="4.5">37</text><ellipse class="o" cx="84"/><ellipse class="o" cx="136"/><ellipse class="w" cx="188"/><ellipse class="w" cx="240"/><ellipse class="v" cx="292"/><ellipse class="v" cx="344"/><ellipse class="v" cx="396"/><ellipse class="v" cx="448"/><ellipse class="w" cx="500"/><ellipse class="w" cx="552"/><ellipse class="o" cx="604"/><ellipse class="r" cx="656"/><ellipse class="r" cx="708"/><ellipse class="r" cx="760"/><ellipse class="o" cx="812"/><ellipse class="o" cx="864"/><ellipse class="r" cx="916"/><text class="aw" x="84 136 188 240 292 344 396 448 500 552 604 656 708 760 812 864 916" y="7">→→<tspan class="ak">→→→→→→→→</tspan>→→→→→→→</text></g>
<g id="row-38" transform="translate(0,1986)"><text class="nl" x="21" y="4.5">38</text><text class="nr" x="979" y="4.5">38</text><rect class="v c" x="27" y="-5" width="62" height="10" rx="5"/><text class="tl" x="31" y="4" fill="#000">E</text><ellipse class="o" cx="84"/><ellipse class="o" cx="136"/><ellipse class="w" cx="188"/><ellipse class="w" cx="240"/><ellipse class="w" cx="292"/><ellipse class="v" cx="344"/><ellipse class="v" cx="396"/><ellipse class="w" cx="448"/><ellipse class="w" cx="500"/><ellipse class="w" cx="552"/><ellipse class="o" cx="604"/><ellipse class="r" cx="656"/><ellipse class="r" cx="708"/><ellipse class="r" cx="760"/><ellipse class="o" cx="812"/><ellipse class="o" cx="864"/><ellipse class="r" cx="916"/><text class="aw" x="84 136 188 240 292 344 396 448 500 552 604 656 708 760 812 864 916" y="7">←←<tspan class="ak">←←←←←←←←</tspan>←←←←←←←</text></g>
<g id="row-39" transform="translate(0,2038)"><text class="nl" x="21" y="4.5">39</text><text class="nr" x="979" y="4.5">39</text><ellipse class="o" cx="84"/><ellipse class="o" cx="136"/><ellipse class="o" cx="188"/><ellipse class="w" cx="240"/><ellipse class="w" cx="292"/><ellipse class="w" cx="344"/><ellipse class="w" cx="396"/><ellipse class="w" cx="448"/><ellipse class="w" cx="500"/><ellipse class="o" cx="552"/><ellipse class="o" cx="604"/><ellipse class="o" cx="656"/><ellipse class="r" cx="708"/><ellipse class="o" cx="760"/><ellipse class="o" cx="812"/><ellipse class="o" cx="864"/><ellipse class="r" cx="916"/><text class="aw" x="84 136 188 240 292 344 396 448 500 552 604 656 708 760 812 864 916" y="7">→→→<tspan class="ak">→→→→→→</tspan>→→→→→→→→</text></g>
<g id="row-40" transform="translate(0,2090)"><text class="nl" x="21" y="4.5">40</text><text class="nr" x="979" y="4.5">40</text><rect class="w c" x="27" y="-5" width="62" height="10" rx="5"/><text class="tl" x="31" y="4" fill="#000">D</text><ellipse class="o" cx="84"/><ellipse class="o" cx="136"/><ellipse class="o" cx="188"/><ellipse class="o" cx="240"/><ellipse class="w" cx="292"/><ellipse class="w" cx="344"/><ellipse class="w" cx="396"/><ellipse class="w" cx="448"/><ellipse class="o" cx="500"/><ellipse class="o" cx="552"/><ellipse class="o" cx="604"/><ellipse class="o" cx="656"/><ellipse class="o" cx="708"/><ellipse class="o" cx="760"/><ellipse class="o" cx="812"/><ellipse class="o" cx="864"/><ellipse class="r" cx="916"/><text class="aw" x="84 136 188 240 292 344 396 448 500 552 604 656 708 760 812 864 916" y="7">←←←←<tspan class="ak">←←←←</tspan>←←←←←←←←←</text></g>
<g id="row-41" transform="translate(0,2142)"><text class="nl" x="21" y="4.5">41</text><text class="nr" x="979" y="4.5">41</text><ellipse class="o" cx="84"/><ellipse class="o" cx="136"/><ellipse class="o" cx="188"/><ellipse class="o" cx="240"/><ellipse class="o" cx="292"/><ellipse class="o" cx="344"/><ellipse class="o" cx="396"/><ellipse class="o" cx="448"/><ellipse class="o" cx="500"/><ellipse class="o" cx="552"/><ellipse class="o" cx="604"/><ellipse class="o" cx="656"/><ellipse class="o" cx="708"/><ellipse class="o" cx="760"/><ellipse class="o" cx="812"/><ellipse class="o" cx="864"/><ellipse class="r" cx="916"/><text class="aw" x="84 136 188 240 292 344 396 448 500 552 604 656 708 760 812 864 916" y="7">→→→→→→→→→→→→→→→→→</text></g>
<g id="row-42" transform="translate(0,2194)"><text class="nl" x="21" y="4.5">42</text><text class="nr" x="979" y="4.5">42</text><ellipse class="o" cx="84"/><ellipse class="o" cx="136"/><ellipse class="o" cx="188"/><ellipse class="o" cx="240"/><ellipse class="o" cx="292"/><ellipse class="o" cx="344"/><ellipse class="o" cx="396"/><ellipse class="o" cx="448"/><ellipse class="o" cx="500"/><ellipse class="o" cx="552"/><ellipse class="o" cx="604"/><ellipse class="o" cx="656"/><ellipse class="o" cx="708"/><ellipse class="o" cx="760"/><ellipse class="o" cx="812"/><ellipse class="r" cx="864"/><ellipse class="r" cx="916"/><text class="aw" x="84 136 188 240 292 344 396 448 500 552 604 656 708 760 812 864 916" y="7">←←←←←←←←←←←←←←←←←</text></g>
<g id="row-43" transform="translate(0,2246)"><text class="nl" x="21" y="4.5">43</text><text class="nr" x="979" y="4.5">43</text><ellipse class="o" cx="84"/><ellipse class="o" cx="136"/><ellipse class="o" cx="188"/><ellipse class="o" cx="240"/><ellipse class="o" cx="292"/><ellipse class="o" cx="344"/><ellipse class="o" cx="396"/><ellipse class="o" cx="448"/><ellipse class="o" cx="500"/><ellipse class="o" cx="552"/><ellipse class="o" cx="604"/><ellipse class="o" cx="656"/><ellipse class="o" cx="708"/><ellipse class="o" cx="760"/><ellipse class="r" cx="812"/><ellipse class="r" cx="864"/><ellipse class="r" cx="916"/><text class="aw" x="84 136 188 240 292 344 396 448 500 552 604 656 708 760 812 864 916" y="7">→→→→→→→→→→→→→→→→→</text></g>
<g id="row-44" transform="translate(0,2298)"><text class="nl" x="21" y="4.5">44</text><text class="nr" x="979" y="4.5">44</text><rect class="o c" x="27" y="-5" width="62" height="10" rx="5"/><text class="tl" x="31" y="4" fill="#fff">A</text><ellipse class="o" cx="84"/><ellipse class="o" cx="136"/><ellipse class="o" cx="188"/><ellipse class="o" cx="240"/><ellipse class="o" cx="292"/><ellipse class="o" cx="344"/><ellipse class="o" cx="396"/><ellipse class="o" cx="448"/><ellipse class="o" cx="500"/><ellipse class="o" cx="552"/><ellipse class="o" cx="604"/><ellipse class="o" cx="656"/><ellipse class="r" cx="708"/><ellipse class="r" cx="760"/><ellipse class="r" cx="812"/><ellipse class="r" cx="864"/><ellipse class="r" cx="916"/><text class="aw" x="84 136 188 240 292 344 396 448 500 552 604 656 708 760 812 864 916" y="7">←←←←←←←←←←←←←←←←←</text></g>
<g id="row-45" transform="translate(0,2350)"><text class="nl" x="21" y="4.5">45</text><text class="nr" x="979" y="4.5">45</text><ellipse class="r" cx="84"/><ellipse class="r" cx="136"/><ellipse class="r" cx="188"/><ellipse class="r" cx="240"/><ellipse class="r" cx="292"/><ellipse class="r" cx="344"/><ellipse class="r" cx="396"/><ellipse class="r" cx="448"/><ellipse class="r" cx="500"/><ellipse class="r" cx="552"/><ellipse class="r" cx="604"/><ellipse class="r" cx="656"/><ellipse class="r" cx="708"/><ellipse class="r" cx="760"/><ellipse class="r" cx="812"/><ellipse class="r" cx="864"/><ellipse class="r" cx="916"/><text class="aw" x="84 136 188 240 292 344 396 448 500 552 604 656 708 760 812 864 916" y="7">→→→→→→→→→→→→→→→→→</text></g>
<g id="row-46" transform="translate(0,2402)"><text class="nl" x="21" y="4.5">46</text><text class="nr" x="979" y="4.5">46</text><rect class="r c" x="27" y="-5" width="62" height="10" rx="5"/><text class="tl" x="31" y="4" fill="#fff">B</text><ellipse class="r" cx="84"/><ellipse class="r" cx="136"/><ellipse class="r" cx="188"/><ellipse class="r" cx="240"/><ellipse class="r" cx="292"/><ellipse class="r" cx="344"/><ellipse class="r" cx="396"/><ellipse class="r" cx="448"/><ellipse class="r" cx="500"/><ellipse class="r" cx="552"/><ellipse class="r" cx="604"/><ellipse class="r" cx="656"/><ellipse class="r" cx="708"/><ellipse class="r" cx="760"/><ellipse class="r" cx="812"/><ellipse class="r" cx="864"/><ellipse class="r" cx="916"/><text class="aw" x="84 136 188 240 292 344 396 448 500 552 604 656 708 760 812 864 916" y="7">←←←←←←←←←←←←←←←←←</text></g>
<text id="watermark" x="423" y="1237" font-size="15" font-weight="bold" fill="#333" textLength="154" lengthAdjust="spacingAndGlyphs">BRACELETBOOK.COM</text>
</svg>
